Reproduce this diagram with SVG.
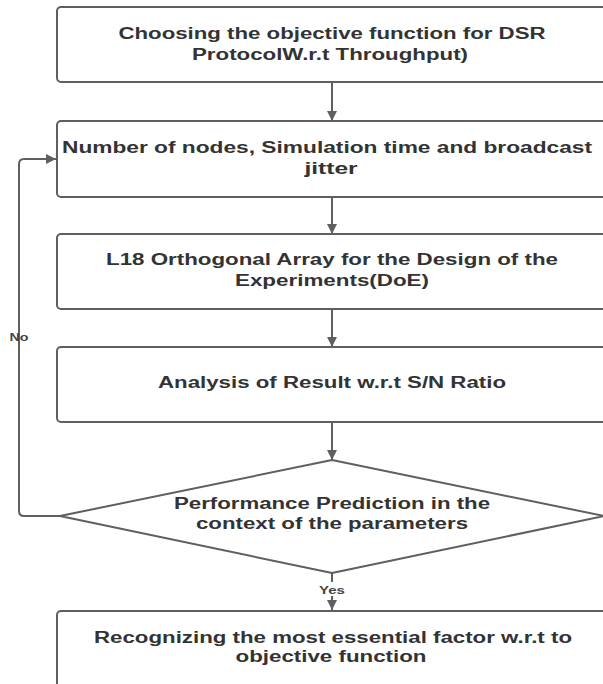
<svg xmlns="http://www.w3.org/2000/svg" width="603" height="684" viewBox="0 0 603 684">
<defs>
<marker id="ah" viewBox="0 0 10 10" refX="10" refY="5" markerWidth="10" markerHeight="10" markerUnits="userSpaceOnUse" orient="auto">
<path d="M0,0 L10,5 L0,10 z" fill="#5f5f5f"/>
</marker>
<style>
.box{fill:#fff;stroke:#5f5f5f;stroke-width:2}
.t{font-family:"Liberation Sans",Arial,sans-serif;font-weight:bold;font-size:16px;fill:#333;text-anchor:middle}
.lbl{font-family:"Liberation Sans",Arial,sans-serif;font-weight:bold;font-size:11px;fill:#444;text-anchor:middle}
.c{fill:none;stroke:#5f5f5f;stroke-width:2}
</style>
</defs>
<rect width="603" height="684" fill="#fff"/>
<g id="connectors">
<line class="c" x1="332" y1="83" x2="332" y2="121" marker-end="url(#ah)"/>
<line class="c" x1="332" y1="197" x2="332" y2="234" marker-end="url(#ah)"/>
<line class="c" x1="332" y1="309" x2="332" y2="347" marker-end="url(#ah)"/>
<line class="c" x1="332" y1="422" x2="332" y2="460" marker-end="url(#ah)"/>
<line class="c" x1="332" y1="573" x2="332" y2="610" marker-end="url(#ah)"/>
<path class="c" d="M60,516 H24 Q19,516 19,511 V164 Q19,159 24,159 H56" marker-end="url(#ah)"/>
<rect x="318" y="582" width="28" height="14" fill="#fff"/>
<text class="lbl" x="332" y="594" textLength="26" lengthAdjust="spacingAndGlyphs">Yes</text>
<text class="lbl" x="19" y="341" textLength="19" lengthAdjust="spacingAndGlyphs">No</text>
</g>
<g id="n1">
<rect class="box" x="57" y="7" width="550" height="75" rx="4"/>
<text class="t" x="332" y="39" textLength="427" lengthAdjust="spacingAndGlyphs">Choosing the objective function for DSR</text>
<text class="t" x="330" y="60" textLength="276" lengthAdjust="spacingAndGlyphs">ProtocolW.r.t Throughput)</text>
</g>
<g id="n2">
<rect class="box" x="57" y="121" width="550" height="76" rx="4"/>
<text class="t" x="327" y="153" textLength="530" lengthAdjust="spacingAndGlyphs">Number of nodes, Simulation time and broadcast</text>
<text class="t" x="331" y="174" textLength="53" lengthAdjust="spacingAndGlyphs">jitter</text>
</g>
<g id="n3">
<rect class="box" x="57" y="234" width="550" height="75" rx="4"/>
<text class="t" x="332" y="265" textLength="452" lengthAdjust="spacingAndGlyphs">L18 Orthogonal Array for the Design of the</text>
<text class="t" x="332" y="286" textLength="194" lengthAdjust="spacingAndGlyphs">Experiments(DoE)</text>
</g>
<g id="n4">
<rect class="box" x="57" y="347" width="550" height="75" rx="4"/>
<text class="t" x="332" y="388" textLength="348" lengthAdjust="spacingAndGlyphs">Analysis of Result w.r.t S/N Ratio</text>
</g>
<g id="n5">
<polygon class="box" points="332,460 604,516 332,573 60,516" stroke-linejoin="round"/>
<text class="t" x="332" y="509" textLength="316" lengthAdjust="spacingAndGlyphs">Performance Prediction in the</text>
<text class="t" x="332" y="529" textLength="272" lengthAdjust="spacingAndGlyphs">context of the parameters</text>
</g>
<g id="n6">
<rect class="box" x="57" y="611" width="550" height="90" rx="4"/>
<text class="t" x="333" y="643" textLength="478" lengthAdjust="spacingAndGlyphs">Recognizing the most essential factor w.r.t to</text>
<text class="t" x="331" y="662" textLength="191" lengthAdjust="spacingAndGlyphs">objective function</text>
</g>
</svg>
